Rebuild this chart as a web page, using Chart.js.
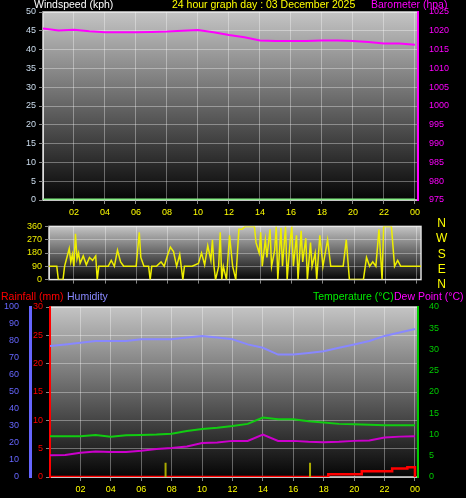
<!DOCTYPE html>
<html><head><meta charset="utf-8">
<script src="https://cdn.jsdelivr.net/npm/chart.js@4"></script>
<style>
body{margin:0;background:#000;width:466px;height:498px;overflow:hidden;position:relative;font-family:"Liberation Sans",Arial,sans-serif}
canvas{position:absolute;left:0}
.t{position:absolute;font-size:10.5px;white-space:nowrap;line-height:11px}
</style></head><body>
<canvas id="c1" style="top:0"></canvas>
<canvas id="c2" style="top:218px"></canvas>
<canvas id="c3" style="top:288px"></canvas>
<div class="t" style="left:34px;top:-1px;color:#fff">Windspeed (kph)</div>
<div class="t" style="left:172px;top:-1px;color:#ff0">24 hour graph day : 03 December 2025</div>
<div class="t" style="left:371px;top:-1px;color:#f0f">Barometer (hpa)</div>
<div class="t" style="left:436px;top:216px;color:#ff0;line-height:15.3px;text-align:center;font-size:12px">N<br>W<br>S<br>E<br>N</div>
<div class="t" style="left:1px;top:291px;color:#f00">Rainfall (mm)</div>
<div class="t" style="left:67px;top:291px;color:#88f">Humidity</div>
<div class="t" style="left:313px;top:291px;color:#0e0">Temperature (°C)</div>
<div class="t" style="left:394px;top:291px;color:#f0f">Dew Point (°C)</div>
<script>
const hours=[0,1,2,3,4,5,6,7,8,9,10,11,12,13,14,15,16,17,18,19,20,21,22,23,24];
const barometer=[1020.6,1020.1,1020.3,1019.9,1019.6,1019.6,1019.6,1019.7,1019.8,1020,1020.2,1019.6,1018.9,1018.3,1017.4,1017.3,1017.3,1017.3,1017.4,1017.4,1017.3,1017.0,1016.6,1016.6,1016.3];
const windspeed=[0,0,0,0,0,0,0,0,0,0,0,0,0,0,0,0,0,0,0,0,0,0,0,0,0];
const dirHours=[0.4,0.9,1.0,1.3,1.4,1.7,1.8,1.9,2.0,2.1,2.2,2.3,2.4,2.6,2.8,3.0,3.2,3.4,3.5,3.6,3.8,4.2,4.4,4.6,4.8,5.0,5.2,5.6,6.0,6.2,6.3,6.5,6.8,6.9,7.0,7.3,7.6,7.8,8.0,8.2,8.4,8.6,8.8,9.0,9.1,9.2,9.4,9.6,10.0,10.2,10.4,10.6,10.8,10.9,11.0,11.1,11.3,11.4,11.5,11.6,11.8,12.0,12.2,12.4,12.6,12.8,13.0,13.6,13.7,13.9,14.0,14.1,14.3,14.4,14.6,14.7,14.9,15.0,15.1,15.3,15.4,15.6,15.7,15.9,16.0,16.1,16.3,16.4,16.6,16.7,16.9,17.0,17.2,17.3,17.5,17.6,17.8,18.0,18.1,18.3,18.5,18.7,19.0,19.3,19.5,19.7,19.9,20.2,20.6,20.8,21.0,21.2,21.4,21.6,21.8,21.9,22.0,22.4,22.6,22.8,23.0,23.2,24.5];
const dirValues=[90,90,0,0,90,210,120,170,90,310,140,180,110,160,100,150,130,160,0,90,90,90,130,90,200,120,90,90,90,320,150,90,90,0,90,90,120,90,160,220,190,90,170,0,90,90,90,90,110,180,100,230,130,270,90,0,90,320,0,90,0,300,90,0,340,340,360,360,250,180,320,90,270,150,340,90,200,360,0,350,90,360,0,270,360,90,300,0,330,120,280,0,250,90,180,0,300,90,150,270,90,90,90,90,270,0,0,0,0,150,90,120,90,340,0,360,360,360,90,130,90,90,90];
const humidity=[77,78,79,80,80,80,81,81,81,82,83,82,81,78,76,72,72,73,74,76,78,80,83,85,87];
const temperature=[9.6,9.6,9.6,9.9,9.5,9.8,9.9,10,10.2,10.8,11.3,11.6,12,12.5,14,13.6,13.6,13.1,12.8,12.5,12.4,12.3,12.2,12.2,12.2];
const dewpoint=[5.1,5.2,5.7,6,5.9,5.9,6.2,6.6,6.8,7.2,8,8.1,8.5,8.5,10,8.5,8.5,8.3,8.2,8.3,8.5,8.6,9.3,9.5,9.6];
const rainHours=[0,18.3,18.3,20.5,20.5,22.5,22.5,23.5,23.5,24,24];
const rainValues=[0,0,0.5,0.5,1,1,1.5,1.5,1.7,1.7,0];
const markerHours=[7.6,17.1];
const markerTop=2.5;

const grid={color:'rgba(255,255,255,0.35)',borderDash:[1,2],drawTicks:true,tickLength:4,tickColor:'#888'};
const bgPlugin={id:'bg',beforeDraw(c){const a=c.chartArea,x=c.ctx;const g=x.createLinearGradient(0,a.top,0,a.bottom);g.addColorStop(0,'#c4c4c4');g.addColorStop(1,'#050505');x.save();x.fillStyle=g;x.fillRect(a.left,a.top,a.right-a.left,a.bottom-a.top);x.strokeStyle='#ddd';x.lineWidth=1.5;x.strokeRect(a.left,a.top,a.right-a.left,a.bottom-a.top);x.restore();}};
const font={family:'"Liberation Sans",Arial',size:9};
const plain=v=>String(v);
function fixW(w){return s=>{s.width=w;};}
function fixH(h){return s=>{s.height=h;};}
function xAxis(min,max,h,labels){return {type:'linear',min,max,afterFit:fixH(h),
 afterBuildTicks:s=>{s.ticks=[2,4,6,8,10,12,14,16,18,20,22,24].map(v=>({value:v}));},
 ticks:{display:labels,color:'#ff0',font,autoSkip:false,maxRotation:0,callback:v=>String(v%24).padStart(2,'0')},
 grid,border:{display:false}};}
function mk(id,h,cfg){const c=document.getElementById(id);c.width=466;c.height=h;c.style.width='466px';c.style.height=h+'px';
 cfg.options=Object.assign({responsive:false,animation:false,devicePixelRatio:1,plugins:{legend:{display:false},tooltip:{enabled:false}},elements:{point:{radius:0},line:{tension:0,borderWidth:2}}},cfg.options);
 cfg.plugins=[bgPlugin];return new Chart(c,cfg);}

mk('c1',218,{type:'line',data:{datasets:[
 {data:hours.map((h,i)=>({x:h,y:barometer[i]})),borderColor:'#f0f',yAxisID:'yb'},
 {data:hours.map((h,i)=>({x:h,y:windspeed[i]})),borderColor:'#8e8',yAxisID:'yw',borderWidth:3}]},
 options:{layout:{padding:{top:12,left:0,right:0,bottom:0}},scales:{
  x:xAxis(0,24.2,18,true),
  yw:{position:'left',min:0,max:50,afterFit:fixW(43),ticks:{stepSize:5,color:'#cde',font,callback:plain},grid,border:{color:'#ddd'}},
  yb:{position:'right',min:975,max:1025,afterFit:fixW(48),ticks:{stepSize:5,color:'#f0f',font,callback:plain},grid:{display:false},border:{color:'#f0f',width:2}}}}});

mk('c2',70,{type:'line',data:{datasets:[
 {data:dirHours.map((h,i)=>({x:h,y:dirValues[i]})),borderColor:'#ee0',borderWidth:1.5,yAxisID:'y'}]},
 options:{layout:{padding:{top:4,right:0,left:0,bottom:0}},scales:{
  x:xAxis(0.4,24.3,6,false),
  y:{position:'left',min:0,max:360,afterFit:fixW(49),ticks:{stepSize:90,color:'#ee0',font},grid,border:{color:'#ddd'}},
  y2:{position:'right',min:0,max:360,afterFit:fixW(45),ticks:{display:false},grid:{display:false},border:{display:false}}}}});

mk('c3',210,{type:'line',data:{datasets:[
 {data:hours.map((h,i)=>({x:h,y:humidity[i]})),borderColor:'#88f',yAxisID:'yh'},
 {data:hours.map((h,i)=>({x:h,y:temperature[i]})),borderColor:'#1c1',yAxisID:'yt'},
 {data:hours.map((h,i)=>({x:h,y:dewpoint[i]})),borderColor:'#c0c',yAxisID:'yt'},
 {data:[markerHours[0],markerHours[0],null,markerHours[1],markerHours[1]].map((h,i)=>({x:h===null?NaN:h,y:h===null?null:(i%3===0?0:markerTop)})),borderColor:'#aa0',yAxisID:'yr',spanGaps:false},
 {data:rainHours.map((h,i)=>({x:h,y:rainValues[i]})),borderColor:'#f00',borderWidth:2.5,yAxisID:'yr'}]},
 options:{layout:{padding:{top:19,left:0,right:0,bottom:0}},scales:{
  x:xAxis(0,24.2,21,true),
  yr:{position:'left',min:0,max:30,afterFit:fixW(20),ticks:{stepSize:5,color:'#f00',font},grid,border:{color:'#f00',width:2}},
  yh:{position:'left',min:0,max:100,afterFit:fixW(30),ticks:{stepSize:10,color:'#66f',font},grid:{display:false},border:{color:'#66f',width:3}},
  yt:{position:'right',min:0,max:40,afterFit:fixW(48),ticks:{stepSize:5,color:'#0c0',font},grid:{display:false},border:{color:'#0c0',width:2}}}}});
</script></body></html>
